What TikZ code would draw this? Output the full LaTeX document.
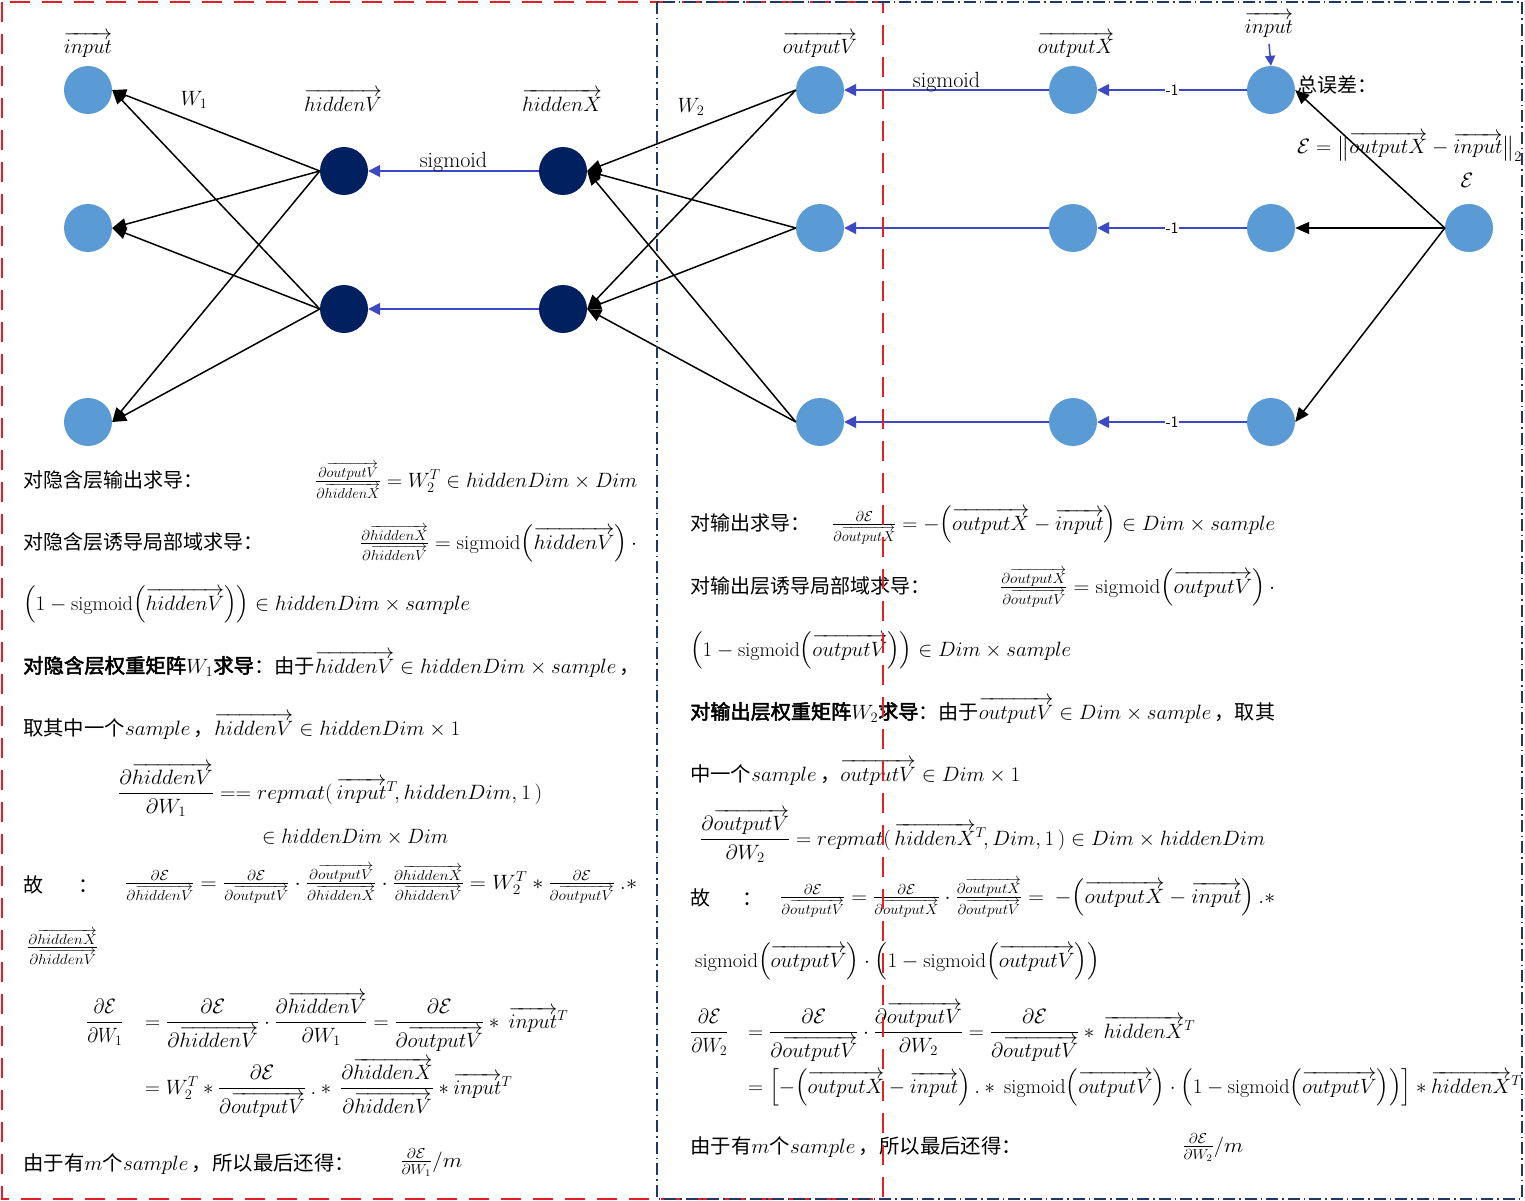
\documentclass[tikz,border=0pt]{standalone}
\usepackage{amsmath}
\usepackage{fontspec}
\usepackage{graphicx}
\newfontfamily\cjk[AutoFakeBold=2.5]{Noto Sans CJK SC}
\usetikzlibrary{arrows.meta}
\definecolor{nodeblue}{HTML}{5B9BD5}
\definecolor{nodenavy}{HTML}{002060}
\definecolor{flowblue}{RGB}{60,72,196}
\definecolor{boxred}{RGB}{226,32,40}
\definecolor{boxnavy}{RGB}{31,56,100}
\newcommand\ovr[1]{\overrightarrow{#1}}
\newcommand\sgm{\mathrm{sigmoid}\mathopen{}}
\newcommand\mneg{-\mathopen{}}
\newsavebox\fitbox
% scale a piece of text horizontally to a given width (in pt)
\newcommand\wfit[2]{\sbox\fitbox{#2}\pgfmathsetmacro\fitr{#1/\the\wd\fitbox}\scalebox{\fitr}[1]{\usebox\fitbox}}
\tikzset{
  lnode/.style={circle, fill=nodeblue, minimum size=48pt, inner sep=0},
  dnode/.style={circle, fill=nodenavy, minimum size=48pt, inner sep=0},
  wire/.style={line width=1.5pt, -{Triangle[length=14pt,width=12pt]}},
  flow/.style={flowblue, line width=1.8pt, -{Triangle[length=12pt,width=12pt]}},
  lab/.style={font=\fontsize{20}{24}\selectfont, inner sep=0},
  txt/.style={font=\cjk\fontsize{20}{24}\selectfont, inner sep=0, anchor=base west},
  actlab/.style={midway, anchor=base, text=black, inner sep=0, font=\fontsize{22}{26}\selectfont},
  minus/.style={fill=white, text=black, inner sep=1pt, font=\sffamily\fontsize{16}{18}\selectfont},
}
\begin{document}
\begin{tikzpicture}[x=1pt, y=-1pt]
\useasboundingbox[fill=white] (0,0) rectangle (1525,1201);

% ---- neurons ----
\node[lnode] (in1) at (88,90) {};
\node[lnode] (in2) at (88,228) {};
\node[lnode] (in3) at (88,422) {};
\node[dnode] (hv1) at (344,171) {};
\node[dnode] (hv2) at (344,309) {};
\node[dnode] (hx1) at (563,171) {};
\node[dnode] (hx2) at (563,309) {};
\node[lnode] (ov1) at (820,90) {};
\node[lnode] (ov2) at (820,228) {};
\node[lnode] (ov3) at (820,422) {};
\node[lnode] (ox1) at (1073,90) {};
\node[lnode] (ox2) at (1073,228) {};
\node[lnode] (ox3) at (1073,422) {};
\node[lnode] (tg1) at (1271,90) {};
\node[lnode] (tg2) at (1271,228) {};
\node[lnode] (tg3) at (1271,422) {};
\node[lnode] (eps) at (1469,228) {};

% ---- layer labels ----
\node[lab] (lin) at (88,45) {$\ovr{input}$};
\node[lab] (lw1) at (194,100) {$W_1$};
\node[lab] (lhv) at (343,100) {$\ovr{hiddenV}$};
\node[lab] (lhx) at (562,100) {$\ovr{hiddenX}$};
\node[lab] (lw2) at (691,107) {$W_2$};
\node[lab] (lov) at (820,45) {$\ovr{outputV}$};
\node[lab] (lox) at (1076,45) {$\ovr{outputX}$};
\node[lab] (tin) at (1269,25) {$\ovr{input}$};
\node[txt] (lerr) at (1297,93) {总误差：};
\node[txt] (lnorm) at (1297,154) {\wfit{225}{$\mathcal{E}=\big\|\ovr{outputX}-\ovr{input}\big\|_2$}};
\node[lab] (leps) at (1467,180) {$\mathcal{E}$};

% ---- left derivation ----
\node[txt] (a1) at (23,487) {对隐含层输出求导：};
\node[txt] (a1f) at (315,487) {\wfit{322}{$\tfrac{\partial\ovr{outputV}}{\partial\ovr{hiddenX}}=W_2^T\in hiddenDim\times Dim$}};
\node[txt] (a2) at (23,549) {对隐含层诱导局部域求导：};
\node[txt] (a2f) at (360,549) {\wfit{277}{$\tfrac{\partial\ovr{hiddenX}}{\partial\ovr{hiddenV}}=\sgm\left(\ovr{hiddenV}\right)\cdot$}};
\node[txt] (a3) at (23,610) {\wfit{447}{$\left(1-\sgm\left(\ovr{hiddenV}\right)\right)\in hiddenDim\times sample$}};
\node[txt] (a4) at (23,673) {\wfit{617}{{\bfseries 对隐含层权重矩阵}$W_1${\bfseries 求导}：由于$\ovr{hiddenV}\in hiddenDim\times sample$\,，}};
\node[txt] (a5) at (23,735) {\wfit{437}{取其中一个$sample$\,，$\ovr{hiddenV}\in hiddenDim\times 1$}};
\node[txt] (a6) at (118,799) {\wfit{424}{$\dfrac{\partial\ovr{hiddenV}}{\partial W_1}==repmat(\,\ovr{input}^T\!,hiddenDim,1\,)$}};
\node[txt] (a7) at (262,843) {\wfit{186}{$\in hiddenDim\times Dim$}};
\node[txt] (a8g) at (23,892) {故};
\node[txt] (a8c) at (78,892) {：};
\node[txt] (a8f) at (125,889) {\wfit{512}{$\tfrac{\partial\mathcal{E}}{\partial\ovr{hiddenV}}=\tfrac{\partial\mathcal{E}}{\partial\ovr{outputV}}\cdot\tfrac{\partial\ovr{outputV}}{\partial\ovr{hiddenX}}\cdot\tfrac{\partial\ovr{hiddenX}}{\partial\ovr{hiddenV}}=W_2^T*\tfrac{\partial\mathcal{E}}{\partial\ovr{outputV}}\ .*$}};
\node[txt] (a9) at (27,953) {\wfit{71}{$\tfrac{\partial\ovr{hiddenX}}{\partial\ovr{hiddenV}}$}};
\node[txt] (a10) at (86,1028) {\wfit{37}{$\dfrac{\partial\mathcal{E}}{\partial W_1}$}};
\node[txt] (a10f) at (145,1028) {\wfit{423}{$=\dfrac{\partial\mathcal{E}}{\partial\ovr{hiddenV}}\cdot\dfrac{\partial\ovr{hiddenV}}{\partial W_1}=\dfrac{\partial\mathcal{E}}{\partial\ovr{outputV}}*\ \ovr{input}^T$}};
\node[txt] (a11) at (145,1094) {\wfit{367}{$=W_2^T*\dfrac{\partial\mathcal{E}}{\partial\ovr{outputV}}\ .*\ \dfrac{\partial\ovr{hiddenX}}{\partial\ovr{hiddenV}}*\ovr{input}^T$}};
\node[txt] (a12) at (23,1170) {\wfit{332}{由于有$m$个$sample$\,，所以最后还得：}};
\node[txt] (a12f) at (400,1167) {\wfit{62}{$\tfrac{\partial\mathcal{E}}{\partial W_1}/m$}};

% ---- right derivation ----
\node[txt] (b1) at (690,530) {对输出求导：};
\node[txt] (b1f) at (832,530) {\wfit{443}{$\tfrac{\partial\mathcal{E}}{\partial\ovr{outputX}}=\mneg\left(\ovr{outputX}-\ovr{input}\right)\in Dim\times sample$}};
\node[txt] (b2) at (690,593) {对输出层诱导局部域求导：};
\node[txt] (b2f) at (1000,593) {\wfit{275}{$\tfrac{\partial\ovr{outputX}}{\partial\ovr{outputV}}=\sgm\left(\ovr{outputV}\right)\cdot$}};
\node[txt] (b3) at (690,656) {\wfit{381}{$\left(1-\sgm\left(\ovr{outputV}\right)\right)\in Dim\times sample$}};
\node[txt] (b4) at (690,719) {\wfit{585}{{\bfseries 对输出层权重矩阵}$W_2${\bfseries 求导}：由于$\ovr{outputV}\in Dim\times sample$\,，取其}};
\node[txt] (b5) at (690,781) {\wfit{330}{中一个$sample$\,，$\ovr{outputV}\in Dim\times 1$}};
\node[txt] (b6) at (700,845) {\wfit{565}{$\dfrac{\partial\ovr{outputV}}{\partial W_2}=repmat(\,\ovr{hiddenX}^T\!,Dim,1\,)\in Dim\times hiddenDim$}};
\node[txt] (b7g) at (690,905) {故};
\node[txt] (b7c) at (742,905) {：};
\node[txt] (b7f) at (780,903) {\wfit{495}{$\tfrac{\partial\mathcal{E}}{\partial\ovr{outputV}}=\tfrac{\partial\mathcal{E}}{\partial\ovr{outputX}}\cdot\tfrac{\partial\ovr{outputX}}{\partial\ovr{outputV}}=\ \mneg\left(\ovr{outputX}-\ovr{input}\right).*$}};
\node[txt] (b8) at (695,967) {\wfit{405}{$\sgm\left(\ovr{outputV}\right)\cdot\left(1-\sgm\left(\ovr{outputV}\right)\right)$}};
\node[txt] (b9) at (690,1038) {\wfit{38}{$\dfrac{\partial\mathcal{E}}{\partial W_2}$}};
\node[txt] (b9f) at (748,1038) {\wfit{447}{$=\dfrac{\partial\mathcal{E}}{\partial\ovr{outputV}}\cdot\dfrac{\partial\ovr{outputV}}{\partial W_2}=\dfrac{\partial\mathcal{E}}{\partial\ovr{outputV}}*\ \ovr{hiddenX}^T$}};
\node[txt] (b10) at (748,1093) {\wfit{774}{$=\left[\mneg\left(\ovr{outputX}-\ovr{input}\right).*\ \sgm\left(\ovr{outputV}\right)\cdot\left(1-\sgm\left(\ovr{outputV}\right)\right)\right]*\ovr{hiddenX}^T$}};
\node[txt] (b11) at (690,1153) {\wfit{332}{由于有$m$个$sample$\,，所以最后还得：}};
\node[txt] (b11f) at (1182,1152) {\wfit{61}{$\tfrac{\partial\mathcal{E}}{\partial W_2}/m$}};

% ---- weight connections ----
\foreach \h in {hv1,hv2}
  \foreach \i in {in1,in2,in3}
    \draw[wire] (\h.west) -- (\i.east);
\foreach \o in {ov1,ov2,ov3}
  \foreach \h in {hx1,hx2}
    \draw[wire] (\o.west) -- (\h.east);
\foreach \t in {tg1,tg2,tg3}
  \draw[wire] (eps.west) -- (\t.east);

% ---- activation and difference flows ----
\draw[flow] (hx1.west) -- node[actlab, yshift=3pt]{sigmoid} (hv1.east);
\draw[flow] (hx2.west) -- (hv2.east);
\draw[flow] (ox1.west) -- node[actlab, yshift=2pt]{sigmoid} (ov1.east);
\draw[flow] (ox2.west) -- (ov2.east);
\draw[flow] (ox3.west) -- (ov3.east);
\draw[flow] (tg1.west) -- node[minus]{-1} (ox1.east);
\draw[flow] (tg2.west) -- node[minus]{-1} (ox2.east);
\draw[flow] (tg3.west) -- node[minus]{-1} (ox3.east);
\draw[flowblue, line width=1.5pt, -{Triangle[length=10pt,width=10pt]}] ([yshift=-6pt]tin.south) -- (tg1.north);

% ---- panel frames ----
\draw[boxred, line width=1.3pt, dash pattern=on 20pt off 12pt] (2,2) rectangle (883,1199);
\draw[boxnavy, line width=1.3pt, dash pattern=on 12pt off 4pt on 1.5pt off 4pt] (657,2) rectangle (1522,1199);
\end{tikzpicture}
\end{document}
